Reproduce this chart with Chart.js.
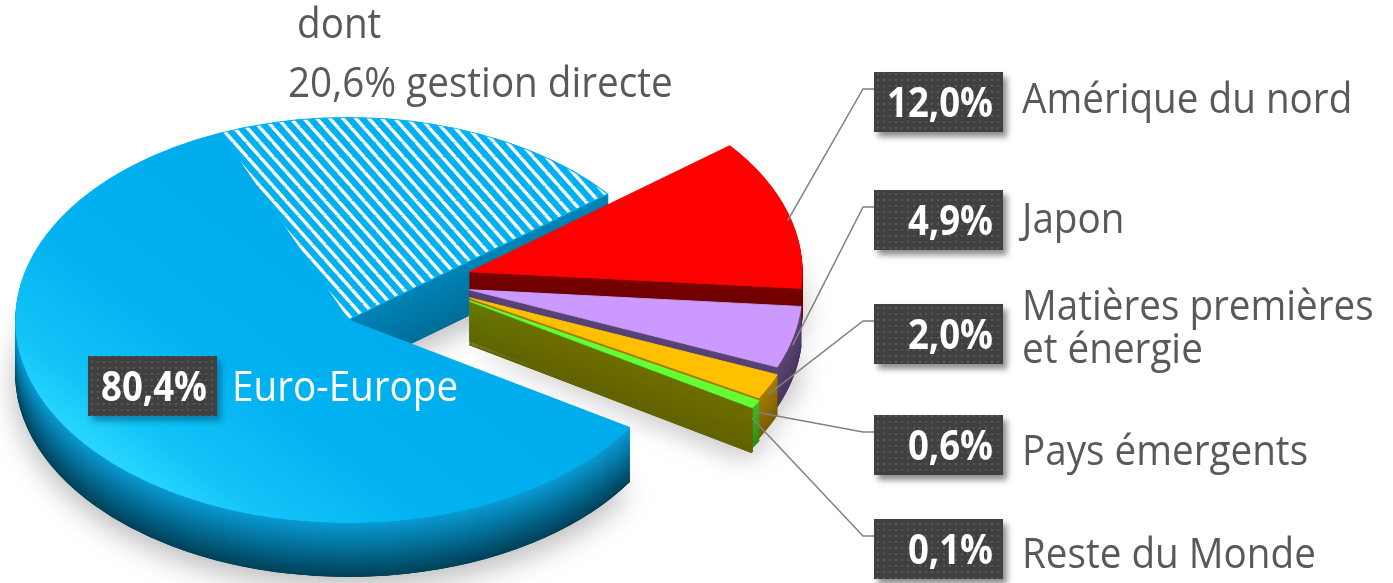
<!DOCTYPE html>
<html>

<head>
    <title>Répartition géographique</title>
    <script src="https://cdn.jsdelivr.net/npm/chart.js@4/dist/chart.umd.min.js"></script>
    <style>
        body { margin: 0; background: #fff; }
    </style>
</head>

<body>
    <canvas id="myChart" width="1393" height="583"></canvas>
</body>
<script>
    // data
    const regionLabels = [['Amérique du nord'], ['Japon'], ['Matières premières', 'et énergie'], ['Pays émergents'], ['Reste du Monde'], ['Euro-Europe']];
    const shares = [12.0, 4.9, 2.0, 0.6, 0.1, 80.4];
    const directShare = 20.6;   // part of Euro-Europe, hatched slice
    const noteLines = ['dont', '20,6% gestion directe'];

    const GROUP = 5;            // the five small slices pulled out to the right

    // look
    const topColors = ['#FF0000', '#CC99FF', '#FFC000', '#66FF33', '#6B6B00', '#00B0F0', '#00B0F0'];
    const sideTop = ['#7A0000', '#5A4576', '#A67C00', '#3FBF1F', '#6E6E00', '#0A9BD3', '#0085B8'];
    const sideBottom = ['#600000', '#4A3560', '#7A5C00', '#2E8A16', '#626200', '#00425A', '#006E98'];
    const depth = [40, 40, 40, 40, 42, 54, 54];
    const lift = [-44, -26, -18, -15, -13, 0, 0];

    const PIE_CY = 320;
    const SQUASH = 0.61;
    const EXPLODE = 122;

    const LABEL_FONT = '42px "Open Sans", "Noto Sans", sans-serif';
    const BOX_FONT = 'bold 42px "Open Sans", "Noto Sans", sans-serif';
    const LABEL_SX = 0.92, BOX_SX = 0.87;

    const boxX = 874, boxW = 129, boxH = 60;
    const boxTops = [72, 190, 304, 415, 519];
    const labelBaselines = [[113], [233], [320, 363], [465], [568]];

    const pctText = v => v.toFixed(1).replace('.', ',') + '%';

    function mix(a, b, t) {
        const pa = parseInt(a.slice(1), 16), pb = parseInt(b.slice(1), 16);
        const ch = s => Math.round(((pa >> s) & 255) * (1 - t) + ((pb >> s) & 255) * t);
        return `rgb(${ch(16)},${ch(8)},${ch(0)})`;
    }

    function stripePattern(ctx) {
        const t = document.createElement('canvas');
        t.width = 13; t.height = 24;
        const g = t.getContext('2d');
        g.fillStyle = '#00B0F0';
        g.fillRect(0, 0, 13, 24);
        g.strokeStyle = '#fff';
        g.lineWidth = 4;
        [-13, 0, 13].forEach(ox => {
            g.beginPath(); g.moveTo(ox, 0); g.lineTo(ox + 13, 24); g.stroke();
        });
        return ctx.createPattern(t, 'repeat');
    }

    function dotPattern(ctx) {
        const t = document.createElement('canvas');
        t.width = 6; t.height = 6;
        const g = t.getContext('2d');
        g.fillStyle = 'rgba(255,255,255,0.13)';
        g.fillRect(1, 1, 2, 2);
        return ctx.createPattern(t, 'repeat');
    }

    function scaledText(ctx, text, x, y, sx, align) {
        ctx.save();
        ctx.translate(x, y);
        ctx.scale(sx, 1);
        ctx.textAlign = align || 'left';
        ctx.fillText(text, 0, 0);
        ctx.restore();
    }

    function drawBox(ctx, x, y, text, shadow) {
        ctx.save();
        ctx.shadowColor = shadow;
        ctx.shadowBlur = 6;
        ctx.shadowOffsetX = 4;
        ctx.shadowOffsetY = 5;
        ctx.fillStyle = '#404040';
        ctx.fillRect(x, y, boxW, boxH);
        ctx.restore();
        ctx.fillStyle = dotPattern(ctx);
        ctx.fillRect(x, y, boxW, boxH);
        ctx.fillStyle = '#fff';
        ctx.font = BOX_FONT;
        scaledText(ctx, text, x + boxW - 10, y + 45, BOX_SX, 'right');
    }

    const midOf = a => (a.startAngle + a.endAngle) / 2;

    // pulls the small slices out together, then draws every slice as a tilted disc with a side wall
    const pie3d = {
        id: 'pie3d',
        afterDatasetUpdate(chart, args) {
            const arcs = args.meta.data;
            const mid = (arcs[0].startAngle + arcs[GROUP - 1].endAngle) / 2;
            for (let i = 0; i < GROUP; i++) {
                arcs[i].x += EXPLODE * Math.cos(mid);
                arcs[i].y += EXPLODE * Math.sin(mid);
            }
        },
        beforeDatasetsDraw(chart) {
            const ctx = chart.ctx;
            const arcs = chart.getDatasetMeta(0).data;
            const main = arcs[GROUP];
            const cy0 = main.y;
            const r = main.outerRadius;

            const blueTop = ctx.createLinearGradient(main.x - r * 0.8, cy0 + r * 0.8, main.x + r * 0.4, cy0 - r * 0.2);
            blueTop.addColorStop(0, '#3AE4FF');
            blueTop.addColorStop(0.2, '#12C4F8');
            blueTop.addColorStop(0.45, '#02B2F1');
            blueTop.addColorStop(1, '#00AAEA');
            const fills = topColors.slice();
            fills[GROUP] = blueTop;
            fills[GROUP + 1] = stripePattern(ctx);
            const edges = topColors.slice();
            edges[GROUP] = blueTop;

            const paint = (i, fill, edge, dy) => {
                const arc = arcs[i];
                ctx.save();
                ctx.translate(0, PIE_CY + dy);
                ctx.scale(1, SQUASH);
                ctx.translate(0, -cy0);
                const keep = arc.options;
                arc.options = Object.assign({}, keep, {
                    backgroundColor: fill, borderColor: edge, borderWidth: 1.5, borderAlign: 'center', borderJoinStyle: 'round'
                });
                arc.draw(ctx);
                arc.options = keep;
                ctx.restore();
            };

            const order = arcs.map((a, i) => i)
                .sort((a, b) => Math.sin(midOf(arcs[a])) - Math.sin(midOf(arcs[b])));

            // soft shadow under everything
            ctx.save();
            ctx.shadowColor = 'rgba(0,0,0,0.28)';
            ctx.shadowBlur = 30;
            ctx.shadowOffsetY = 10;
            order.forEach(i => paint(i, sideBottom[i], sideBottom[i], lift[i] + depth[i]));
            ctx.restore();

            order.forEach(i => {
                for (let d = depth[i]; d > 0; d--) {
                    const c = mix(sideTop[i], sideBottom[i], d / depth[i]);
                    paint(i, c, c, lift[i] + d);
                }
                paint(i, fills[i], edges[i], lift[i]);
            });
            return false;
        },
        afterDraw(chart) {
            const ctx = chart.ctx;
            const arcs = chart.getDatasetMeta(0).data;
            const cy0 = arcs[GROUP].y;

            // note above the hatched slice
            ctx.fillStyle = '#595959';
            ctx.font = LABEL_FONT;
            scaledText(ctx, noteLines[0], 297, 38, LABEL_SX);
            scaledText(ctx, noteLines[1], 288, 97, LABEL_SX);

            // Euro-Europe label on the slice
            drawBox(ctx, 88, 356, pctText(shares[GROUP]), 'rgba(0,60,90,0.45)');
            ctx.fillStyle = '#fff';
            ctx.font = LABEL_FONT;
            scaledText(ctx, regionLabels[GROUP][0], 232, 401, LABEL_SX);

            // call-outs for the small slices
            for (let i = 0; i < GROUP; i++) {
                const a = arcs[i];
                const m = midOf(a);
                const px = a.x + a.outerRadius * Math.cos(m);
                const py = PIE_CY + lift[i] + SQUASH * (a.y + a.outerRadius * Math.sin(m) - cy0) + 8;
                const ey = boxTops[i] + 17;
                ctx.save();
                ctx.strokeStyle = '#808080';
                ctx.lineWidth = 1.5;
                ctx.beginPath();
                ctx.moveTo(px, py);
                ctx.lineTo(863, ey);
                ctx.lineTo(boxX, ey);
                ctx.stroke();
                ctx.restore();

                drawBox(ctx, boxX, boxTops[i], pctText(shares[i]), 'rgba(0,0,0,0.45)');
                ctx.fillStyle = '#595959';
                ctx.font = LABEL_FONT;
                regionLabels[i].forEach((line, j) => scaledText(ctx, line, 1022, labelBaselines[i][j], LABEL_SX));
            }
        }
    };

    const canvas = document.getElementById('myChart');

    const data = {
        labels: regionLabels.map(l => l.join(' ')).concat(['gestion directe']),
        datasets: [{
            data: shares.slice(0, GROUP).concat([shares[GROUP] - directShare, directShare]),
            backgroundColor: topColors,
            borderWidth: 0
        }]
    };

    const myChart = new Chart(canvas, {
        type: 'pie',
        data: data,
        options: {
            responsive: false,
            animation: false,
            events: [],
            devicePixelRatio: 1,
            rotation: 51.5,
            radius: 332,
            layout: { padding: { left: 0, right: 697, top: 0, bottom: 0 } },
            plugins: {
                legend: { display: false },
                tooltip: { enabled: false }
            }
        },
        plugins: [pie3d]
    });
</script>

</html>
